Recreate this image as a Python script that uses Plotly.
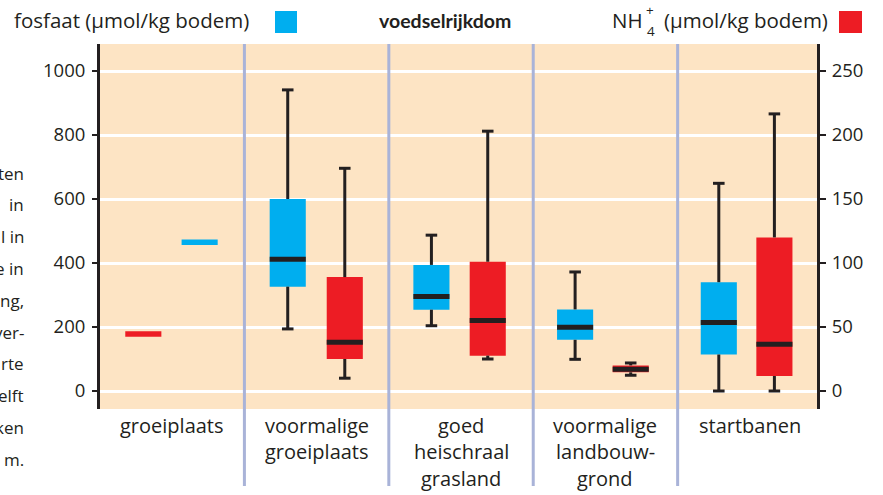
import plotly.graph_objects as go

# ---------------- data ----------------
categories = ["groeiplaats", "voormalige<br>groeiplaats", "goed<br>heischraal<br>grasland",
              "voormalige<br>landbouw-<br>grond", "startbanen"]

# fosfaat (µmol/kg bodem) - left axis
fos_low = [465, 194, 204, 99, 0]
fos_q1 = [465, 326, 254, 160, 114]
fos_med = [465, 412, 295, 199, 214]
fos_q3 = [465, 600, 394, 255, 340]
fos_high = [465, 941, 487, 372, 649]

# NH4+ (µmol/kg bodem) - right axis
nh4_low = [44.5, 10, 25, 12.3, 0]
nh4_q1 = [44.5, 25, 27.6, 14.6, 11.7]
nh4_med = [44.5, 38, 55, 17, 36.5]
nh4_q3 = [44.5, 89, 101, 20, 120]
nh4_high = [44.5, 174, 203, 21.9, 216.5]

left_ticks = [0, 200, 400, 600, 800, 1000]
right_ticks = [0, 50, 100, 150, 200, 250]

side_text = ["ten", "in", "l in", "e in", "ng,", "ver-", "rte", "elft", "ken", "m."]

# ---------------- styling ----------------
BLUE = "#00AEEF"
RED = "#ED1C24"
DARK = "#231F20"
BG = "#FDE4C4"
SEP = "#A9B3D8"
FONT = "Open Sans"

W, H = 883, 495
L, R, T, B = 100, 817, 44, 409
n = len(categories)
XMIN, XMAX = -0.5, n - 0.535
YMIN, YMAX = -56.25, 1084.4
RATIO = 4.0

blue_off = [0.19, -0.2, -0.205, -0.21, -0.215]
red_off = [-0.2, 0.195, 0.185, 0.175, 0.17]
BOXW = 0.25
CAPW = 0.04


def px(xp):
    return (xp - L) / (R - L)


def py(yp):
    return (B - yp) / (B - T)


fig = go.Figure()


def add_series(low, q1, med, q3, high, offs, color, yaxis):
    xs = [i + o for i, o in enumerate(offs)]
    # boxes
    fig.add_trace(go.Bar(x=xs, y=[b - a for a, b in zip(q1, q3)], base=q1, width=BOXW,
                         marker=dict(color=color, line=dict(width=0)), yaxis=yaxis,
                         hoverinfo="skip"))
    wx, wy, cx, cy, mx, my, sx, sy = [], [], [], [], [], [], [], []
    for x, lo, a, m, b, hi in zip(xs, low, q1, med, q3, high):
        if hi > b:
            wx += [x, x, None]; wy += [b, hi, None]
            cx += [x - CAPW, x + CAPW, None]; cy += [hi, hi, None]
        if lo < a:
            wx += [x, x, None]; wy += [lo, a, None]
            cx += [x - CAPW, x + CAPW, None]; cy += [lo, lo, None]
        if b > a:
            mx += [x - BOXW / 2, x + BOXW / 2, None]; my += [m, m, None]
        else:
            sx += [x - BOXW / 2, x + BOXW / 2, None]; sy += [m, m, None]
    fig.add_trace(go.Scatter(x=wx, y=wy, mode="lines", line=dict(color=DARK, width=3),
                             yaxis=yaxis, hoverinfo="skip"))
    fig.add_trace(go.Scatter(x=cx, y=cy, mode="lines", line=dict(color=DARK, width=3),
                             yaxis=yaxis, hoverinfo="skip"))
    fig.add_trace(go.Scatter(x=mx, y=my, mode="lines", line=dict(color=DARK, width=5),
                             yaxis=yaxis, hoverinfo="skip"))
    fig.add_trace(go.Scatter(x=sx, y=sy, mode="lines", line=dict(color=color, width=5.5),
                             yaxis=yaxis, hoverinfo="skip"))


add_series(fos_low, fos_q1, fos_med, fos_q3, fos_high, blue_off, BLUE, "y")
add_series(nh4_low, nh4_q1, nh4_med, nh4_q3, nh4_high, red_off, RED, "y2")

annotations = []
# category labels, one annotation per line
line_y = [425, 451.5, 478]
for i, lab in enumerate(categories):
    for j, part in enumerate(lab.split("<br>")):
        annotations.append(dict(x=i, xref="x", y=py(line_y[j]), yref="paper", text=part,
                                showarrow=False, xanchor="center", yanchor="middle",
                                font=dict(size=20, color=DARK, family=FONT)))

# header
HF = dict(size=20.5, color=DARK, family=FONT)
SF = dict(size=13.5, color=DARK, family=FONT)
header = [
    dict(x=px(12), y=py(20), text="fosfaat (µmol/kg bodem)", xanchor="left", yanchor="middle", font=HF),
    dict(x=px(445), y=py(20), text="<b>voedselrijkdom</b>", xanchor="center", yanchor="middle",
         font=dict(size=19.5, color=DARK, family="Lato")),
    dict(x=px(830), y=py(20), text="(µmol/kg bodem)", xanchor="right", yanchor="middle", font=HF),
    dict(x=px(645), y=py(20), text="NH", xanchor="right", yanchor="middle", font=HF),
    dict(x=px(650), y=py(21), text="+", xanchor="center", yanchor="bottom", font=SF),
    dict(x=px(651), y=py(20), text="4", xanchor="center", yanchor="top", font=SF),
]
for a in header:
    a.update(xref="paper", yref="paper", showarrow=False)
annotations += header

# fragment of neighbouring text column
for k, t in enumerate(side_text):
    annotations.append(dict(x=px(26), y=py(173 + k * 31.8), xref="paper", yref="paper", text=t,
                            showarrow=False, xanchor="right", yanchor="middle",
                            font=dict(size=17, color=DARK, family=FONT)))

shapes = [
    dict(type="rect", xref="paper", yref="paper", x0=px(275), x1=px(297), y0=py(33), y1=py(11),
         fillcolor=BLUE, line=dict(width=0)),
    dict(type="rect", xref="paper", yref="paper", x0=px(839), x1=px(862), y0=py(33), y1=py(11),
         fillcolor=RED, line=dict(width=0)),
]
for i in range(n - 1):
    xs = (i + 0.5 - XMIN) / (XMAX - XMIN)
    shapes.append(dict(type="line", xref="paper", yref="paper", x0=xs, x1=xs, y0=py(486), y1=1,
                       line=dict(color=SEP, width=3), layer="above"))

fig.update_layout(
    width=W, height=H,
    margin=dict(l=L, r=W - R, t=T, b=H - B, pad=0),
    paper_bgcolor="white", plot_bgcolor=BG,
    showlegend=False, barmode="overlay",
    font=dict(family=FONT, color=DARK, size=17),
    xaxis=dict(range=[XMIN, XMAX], showticklabels=False, showgrid=False, zeroline=False,
               showline=False, ticks="", fixedrange=True),
    yaxis=dict(range=[YMIN, YMAX], tickvals=left_ticks, showgrid=True, gridcolor="white",
               gridwidth=2.5, zeroline=False, showline=True, linecolor=DARK, linewidth=3,
               ticks="outside", ticklen=5, tickwidth=1.5, tickcolor=DARK,
               tickfont=dict(size=18.5, color=DARK, family=FONT), ticklabelstandoff=3),
    yaxis2=dict(range=[YMIN / RATIO, YMAX / RATIO], overlaying="y", side="right",
                tickvals=right_ticks, showgrid=False, zeroline=False, showline=True,
                linecolor=DARK, linewidth=3, ticks="outside", ticklen=6, tickwidth=1.5,
                tickcolor=DARK, tickfont=dict(size=18.5, color=DARK, family=FONT),
                ticklabelstandoff=2),
    annotations=annotations, shapes=shapes,
)

fig.write_html("out.html", config={"displayModeBar": False},
               post_script="document.body.style.margin='0';")
